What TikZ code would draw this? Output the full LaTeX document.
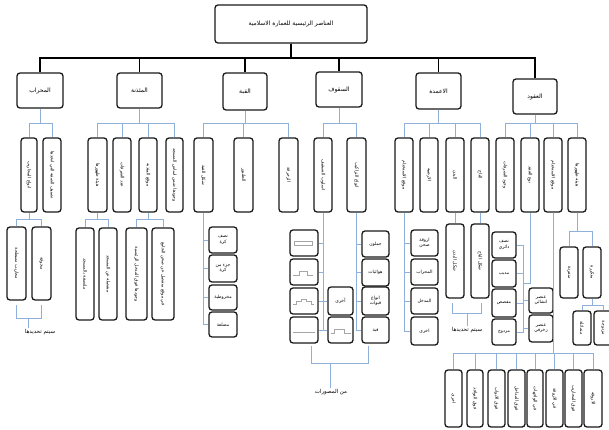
\documentclass[tikz,border=0pt]{standalone}
\usepackage{fontspec}
\usepackage{graphicx}
\newfontfamily\arabicfont[Script=Arabic]{DejaVu Sans}
\TeXXeTstate=1
\usetikzlibrary{calc}
\definecolor{lnblue}{HTML}{8FB0DA}
\newcommand{\artx}[1]{{\arabicfont\beginR #1\endR}}
\newcommand{\arvt}[1]{\rotatebox{-90}{\artx{#1}}}
\newcommand{\bxn}[7][]{\node[boxst,#1,minimum width={(#5)-(#3)},minimum height={(#6)-(#4)}] (#2) at ({((#3)+(#5))/2},{((#4)+(#6))/2}) {#7};}
\begin{document}
\begin{tikzpicture}[x=1pt,y=-1pt,
 boxst/.style={draw=black!90,line width=1.3pt,rounded corners=3pt,inner sep=0pt,align=center,font=\fontsize{4.5}{5.4}\selectfont,fill=white},
 lvlone/.style={font=\fontsize{6}{7}\selectfont},
 blu/.style={draw=lnblue,line width=0.6pt},
 bkln/.style={draw=black,line width=1.2pt},
 lbl/.style={font=\fontsize{5.5}{6.5}\selectfont,inner sep=1pt},
 sketch/.style={draw=black!35,line width=0.3pt}]
\useasboundingbox (0,0) rectangle (609,430);
\fill[white] (0,0) rectangle (609,430);

% top
\bxn[lvlone]{top}{215}{5}{367}{43}{\artx{العناصر الرئيسية للعمارة الاسلامية}}
% level 1
\bxn[lvlone]{mihrab}{17}{73}{63}{108}{\artx{المحراب}}
\bxn[lvlone]{minaret}{117}{73}{162}{108}{\artx{المئذنة}}
\bxn[lvlone]{dome}{223}{73}{267}{110}{\artx{القبة}}
\bxn[lvlone]{roof}{316}{72}{362}{107}{\artx{السقوف}}
\bxn[lvlone]{column}{416}{73}{461}{109}{\artx{الاعمدة}}
\bxn[lvlone]{arch}{513}{79}{557}{114}{\artx{العقود}}

\coordinate (topbus) at (0,58);
\foreach \p in {mihrab,minaret,dome,roof,column,arch}
  \draw[bkln] (top.south) -- (top.south |- topbus) -| (\p.north);

% level 2
\bxn{m1}{21}{138}{37}{212}{\arvt{انواع المحاريب}}
\bxn{m2}{43}{138}{61}{212}{\arvt{تصنيف الصفة التي اتخذها}}
\bxn{n1}{88}{138}{107}{212}{\arvt{هيئة ظهورها}}
\bxn{n2}{113}{138}{131}{212}{\arvt{عدد الشرفات}}
\bxn{n3}{139}{138}{157}{212}{\arvt{موقع المئذنة}}
\bxn{n4}{166}{138}{183}{212}{\arvt{وجودها ضمن اساس المسجد}}
\bxn{d1}{194}{138}{213}{212}{\arvt{شكل القبة}}
\bxn{d2}{234}{138}{253}{212}{\arvt{الطنبور}}
\bxn{d3}{279}{138}{298}{212}{\arvt{الزخرفة}}
\bxn{r1}{314}{138}{332}{212}{\arvt{اسلوب التسقيف}}
\bxn{r2}{347}{138}{366}{212}{\arvt{انواع التراكيب}}
\bxn{c1}{395}{138}{413}{212}{\arvt{موقع الاستخدام}}
\bxn{c2}{420}{138}{438}{212}{\arvt{الارضية}}
\bxn{c3}{446}{138}{464}{212}{\arvt{البدن}}
\bxn{c4}{471}{138}{489}{212}{\arvt{التاج}}
\bxn{a1}{496}{138}{514}{212}{\arvt{وجود الشرفات}}
\bxn{a2}{521}{138}{539}{212}{\arvt{نوع العقد}}
\bxn{a3}{544}{138}{562}{212}{\arvt{موقع الاستخدام}}
\bxn{a4}{568}{138}{586}{212}{\arvt{هيئة ظهورها}}

\coordinate (midbus) at (0,123);
\foreach \p/\c in {mihrab/m1,mihrab/m2,minaret/n1,minaret/n2,minaret/n3,minaret/n4,
  dome/d1,dome/d2,dome/d3,roof/r1,roof/r2,column/c1,column/c2,column/c3,column/c4,
  arch/a1,arch/a2,arch/a3,arch/a4}
  \draw[blu] (\p.south) -- (\p.south |- midbus) -| (\c.north);

% level 3 mihrab
\bxn{mm1}{7}{227}{26}{300}{\arvt{محاريب مسطحة}}
\bxn{mm2}{32}{227}{51}{300}{\arvt{مجوفة}}
\coordinate (mbus) at (0,219);
\foreach \c in {mm1,mm2}
  \draw[blu] (m1.south) -- (m1.south |- mbus) -| (\c.north);
\coordinate (mbrA) at (16,305);
\coordinate (mbrB) at (41,305);
\coordinate (mbrM) at (28,318);
\node[lbl] (mlabel) at (40,332) {\artx{سيتم تحديدها}};
\draw[blu] (mbrA) |- (mbrB |- mbrM) -- (mbrB);
\draw[blu] (mbrM) -- (mbrM |- mlabel.north);

% level 3 minaret
\bxn{nn1}{76}{228}{94}{320}{\arvt{ملتصقة بالمسجد}}
\bxn{nn2}{99}{228}{117}{320}{\arvt{منفصلة عن المسجد}}
\bxn{nn3}{126}{228}{147}{320}{\arvt{وجودها فوق المدخل الرئيسية}}
\bxn{nn4}{152}{228}{174}{320}{\arvt{في موقع منفصل عن صحن الجامع}}
\foreach \p/\c in {n1/nn1,n1/nn2,n3/nn3,n3/nn4}
  \draw[blu] (\p.south) -- (\p.south |- mbus) -| (\c.north);

% level 3 dome
\bxn{dd1}{209}{227}{237}{253}{\artx{نصف}\\\artx{كرة}}
\bxn{dd2}{209}{255}{237}{282}{\artx{جزء من}\\\artx{كرة}}
\bxn{dd3}{209}{285}{237}{310}{\artx{مخروطية}}
\bxn{dd4}{209}{312}{237}{337}{\artx{مضلعة}}
\foreach \c in {dd1,dd2,dd3,dd4}
  \draw[blu] (d1.south) |- (\c.west);

% level 3 roof
\bxn{rr1}{290}{230}{318}{256}{}
\bxn{rr2}{290}{259}{318}{285}{}
\bxn{rr3}{290}{288}{318}{314}{}
\bxn{rr4}{290}{317}{318}{343}{}
\bxn{rm1}{328}{287}{353}{315}{\artx{أخرى}}
\bxn{rm2}{328}{317}{353}{343}{}
\bxn{rq1}{362}{231}{389}{257}{\artx{جملون}}
\bxn{rq2}{362}{259}{389}{286}{\artx{هوائيات}}
\bxn{rq3}{362}{287}{389}{315}{\artx{انواع}\\\artx{قبوات}}
\bxn{rq4}{362}{317}{389}{343}{\artx{قبة}}
\foreach \c in {rr1,rr2,rr3,rr4}
  \draw[blu] (r1.south) |- (\c.east);
\foreach \c in {rm1,rm2}
  \draw[blu] (r1.south) |- (\c.west);
\foreach \c in {rq1,rq2,rq3,rq4}
  \draw[blu] (r2.south) |- (\c.west);
% small sketches in roof boxes
\draw[sketch] ($(rr1.center)+(-10,-2)$) rectangle ($(rr1.center)+(8,2)$);
\draw[sketch] ($(rr2.center)+(-11,3)$) -- ++(6,0) -- ++(0,-4) -- ++(8,0) -- ++(0,4) -- ++(6,0);
\draw[sketch] ($(rr3.center)+(-11,3)$) -- ++(3,0) -- ++(0,-3) -- ++(5,0) -- ++(0,-2) -- ++(5,0) -- ++(0,2) -- ++(5,0) -- ++(0,3) -- ++(3,0);
\draw[sketch] ($(rr4.center)+(-11,2)$) -- ++(22,0);
\draw[sketch] ($(rm2.center)+(-10,3)$) -- ++(4,0) -- ++(0,-4) -- ++(10,0) -- ++(0,4) -- ++(6,0);
% roof bracket
\coordinate (rbrA) at (311,346);
\coordinate (rbrB) at (368,346);
\coordinate (rbrM) at (330,363);
\node[lbl] (rlabel) at (331,392) {\artx{من المصورات}};
\draw[blu] (rbrA) |- (rbrB |- rbrM) -- (rbrB);
\draw[blu] (rbrM) -- (rbrM |- rlabel.north);

% level 3 columns
\bxn{cc1}{411}{230}{438}{256}{\artx{اروقة}\\\artx{صحن}}
\bxn{cc2}{411}{259}{438}{285}{\artx{المحراب}}
\bxn{cc3}{411}{288}{438}{314}{\artx{المدخل}}
\bxn{cc4}{411}{317}{438}{345}{\artx{اخرى}}
\foreach \c in {cc1,cc2,cc3,cc4}
  \draw[blu] (c1.south) |- (\c.west);
\bxn{cb1}{446}{224}{464}{298}{\arvt{شكل البدن}}
\bxn{cb2}{471}{224}{489}{298}{\arvt{شكل التاج}}
\draw[blu] (c3.south) -- (cb1.north);
\draw[blu] (c4.south) -- (cb2.north);
\coordinate (cbrA) at (452,303);
\coordinate (cbrB) at (481,303);
\coordinate (cbrM) at (467,313);
\node[lbl] (clabel) at (467,330) {\artx{سيتم تحديدها}};
\draw[blu] (cbrA) |- (cbrB |- cbrM) -- (cbrB);
\draw[blu] (cbrM) -- (cbrM |- clabel.north);

% level 3 arches: type
\bxn{ab1}{492}{232}{516}{258}{\artx{نصف}\\\artx{دائري}}
\bxn{ab2}{492}{260}{516}{287}{\artx{مدبب}}
\bxn{ab3}{492}{289}{516}{317}{\artx{مفصص}}
\bxn{ab4}{492}{319}{516}{345}{\artx{مزدوج}}
\bxn{ae1}{529}{288}{553}{313}{\artx{عنصر}\\\artx{انشائي}}
\bxn{ae2}{529}{315}{553}{342}{\artx{عنصر}\\\artx{زخرفي}}
\coordinate (arcj) at (523,283);
\draw[blu] (a2.south) |- (arcj);
\foreach \c in {ab1,ab2,ab3,ab4}
  \draw[blu] (arcj) |- (\c.east);
\foreach \c in {ae1,ae2}
  \draw[blu] (arcj) |- (\c.west);

% level 3 arches: location of use
\bxn{ap1}{445}{370}{462}{427}{\arvt{اخرى}}
\bxn{ap2}{467}{370}{483}{427}{\arvt{فوق النوافذ}}
\bxn{ap3}{488}{370}{505}{427}{\arvt{فوق الابواب}}
\bxn{ap4}{508}{370}{525}{427}{\arvt{فوق المداخل}}
\bxn{ap5}{527}{370}{543}{427}{\arvt{في الواجهات}}
\bxn{ap6}{546}{370}{563}{427}{\arvt{في الاروقة}}
\bxn{ap7}{565}{370}{582}{427}{\arvt{فوق المحاريب}}
\bxn{ap8}{584}{370}{602}{427}{\arvt{الاروقة}}
\coordinate (apbus) at (0,353);
\foreach \c in {ap1,ap2,ap3,ap4,ap5,ap6,ap7,ap8}
  \draw[blu] (a3.south) -- (a3.south |- apbus) -| (\c.north);

% level 3 arches: appearance
\bxn{ah1}{560}{247}{578}{298}{\arvt{منفردة}}
\bxn{ah2}{583}{247}{601}{298}{\arvt{متكررة}}
\coordinate (ahbus) at (0,231);
\foreach \c in {ah1,ah2}
  \draw[blu] (a4.south) -- (a4.south |- ahbus) -| (\c.north);
\bxn{ahh1}{573}{311}{591}{345}{\arvt{متماثلة}}
\bxn{ahh2}{594}{311}{612}{345}{\arvt{مزدوجة}}
\coordinate (ahhbus) at (0,305);
\foreach \c in {ahh1,ahh2}
  \draw[blu] (ah2.south) -- (ah2.south |- ahhbus) -| (\c.north);
\end{tikzpicture}
\end{document}
